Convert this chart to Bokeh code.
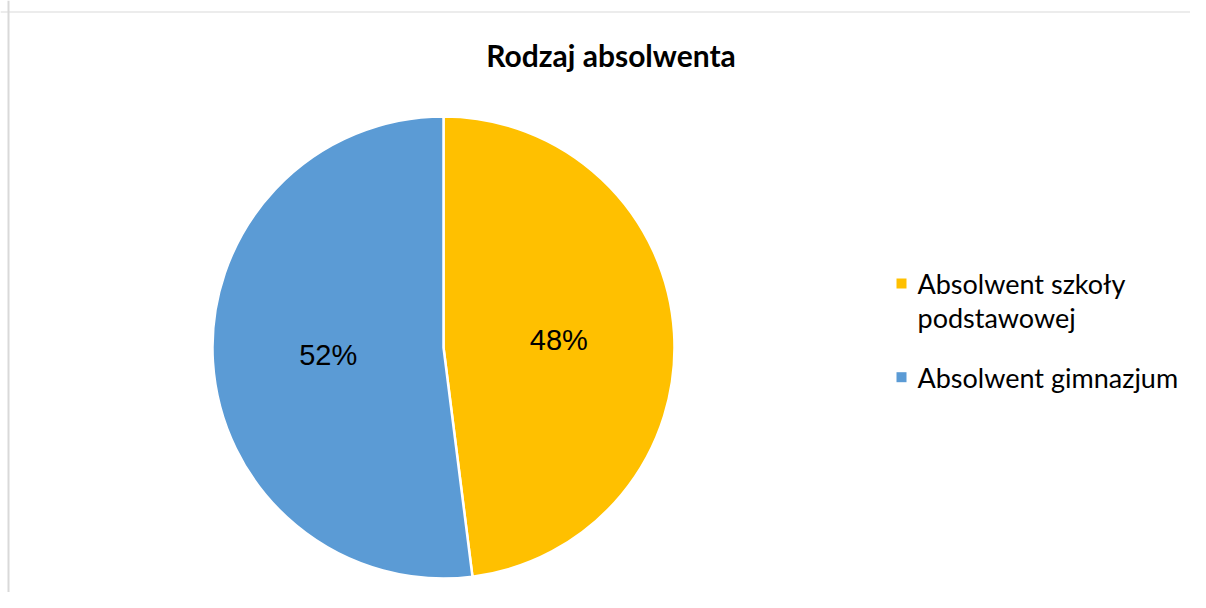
import numpy as np
from bokeh.plotting import figure
from bokeh.models import Range1d, Span, ColumnDataSource
from bokeh.core.properties import value
from bokeh.embed import file_html
from bokeh.resources import INLINE

# ---- data ----
title = "Rodzaj absolwenta"
categories = ["Absolwent szkoły podstawowej", "Absolwent gimnazjum"]
legend_lines = [["Absolwent szkoły", "podstawowej"], ["Absolwent gimnazjum"]]
values = [48, 52]
colors = ["#FFC000", "#5B9BD5"]

# ---- layout (screenshot pixel coordinates) ----
W, H = 1190, 592


def Y(py):
    return H - py


p = figure(width=W, height=H, output_backend="svg", toolbar_location=None,
           x_range=Range1d(0, W), y_range=Range1d(0, H),
           x_axis_location=None, y_axis_location=None, min_border=0,
           outline_line_color=None, background_fill_color="white")
p.grid.visible = False

# chart-area border (only top & left visible in window)
p.add_layout(Span(location=8, dimension="height", line_color="#d9d9d9", line_width=2))
p.add_layout(Span(location=Y(11.5), dimension="width", line_color="#d9d9d9", line_width=1))

# ---- pie ----
cx, cy, R = 443, 347, 231
vals = np.array(values, dtype=float)
frac = vals / vals.sum()
cum = np.concatenate([[0], np.cumsum(frac)])
start = np.pi / 2 - cum[:-1] * 2 * np.pi
end = np.pi / 2 - cum[1:] * 2 * np.pi
mid = (start + end) / 2

src = ColumnDataSource(dict(start=start, end=end, color=colors,
                            x=[cx] * len(values), y=[Y(cy)] * len(values)))
p.wedge(x="x", y="y", radius=R, start_angle="start", end_angle="end",
        direction="clock", fill_color="color", line_color="white", line_width=2.5,
        source=src)

labels = [f"{int(round(f * 100))}%" for f in frac]
lx = cx + 0.5 * R * np.cos(mid)
ly = Y(cy) + 0.5 * R * np.sin(mid)
p.text(x=lx, y=ly, text=labels, text_font=value("Liberation Sans"),
       text_font_size="29px", text_align="center", text_baseline="middle",
       text_color="black")

# ---- title ----
p.text(x=[610.5], y=[Y(54.5)], text=[title], text_font=value("Lato"),
       text_font_style="bold", text_font_size="30px", text_align="center",
       text_baseline="middle", text_color="black")

# ---- legend ----
sq_x = 901
sq_ys = [283, 376.7]
txt_x = 917
mid_ys = [[283, 317], [376.5]]
for i, c in enumerate(colors):
    p.rect(x=[sq_x], y=[Y(sq_ys[i])], width=10, height=10, fill_color=c, line_color=None)
    for j, line in enumerate(legend_lines[i]):
        p.text(x=[txt_x], y=[Y(mid_ys[i][j])], text=[line], text_font=value("Lato"),
               text_font_size="27px", text_align="left", text_baseline="middle",
               text_color="black")

open("out.html", "w").write(file_html(p, INLINE))
